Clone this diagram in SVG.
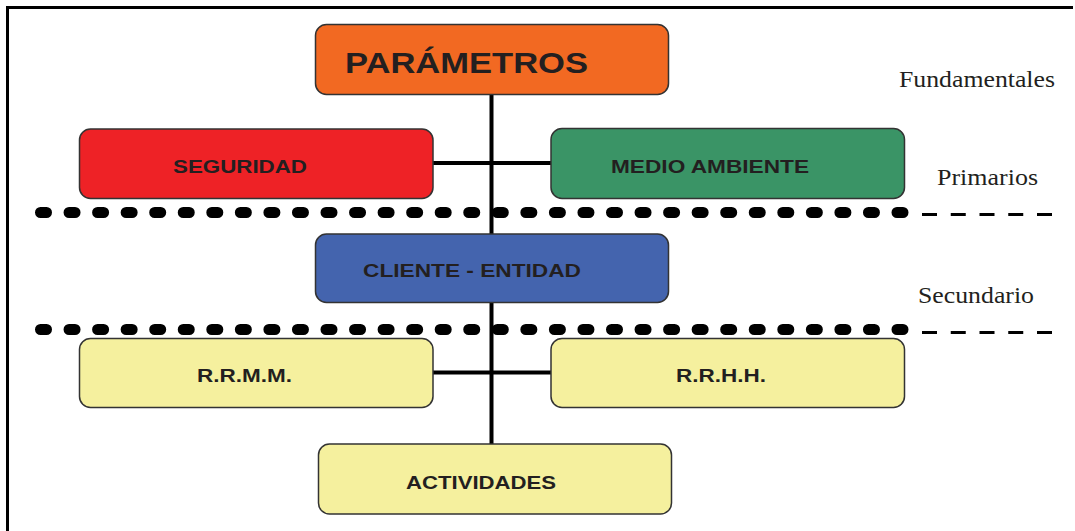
<svg xmlns="http://www.w3.org/2000/svg" width="1075" height="531" viewBox="0 0 1075 531">
<style>
.box{stroke:#333;stroke-width:1.5}
.lbl{font-family:"Liberation Sans",Arial,sans-serif;font-weight:bold;fill:#231F20;font-size:18px}
.side{font-family:"Liberation Serif","Times New Roman",serif;fill:#231F20;font-size:23px}
.con{stroke:#000;stroke-width:4;fill:none}
.dots{stroke:#000;stroke-width:11;stroke-linecap:round;stroke-dasharray:6 22.55;fill:none}
.dash{stroke:#000;stroke-width:3;stroke-dasharray:15 13.75;fill:none}
</style>
<rect width="1075" height="531" fill="#fff"/>
<g id="frame">
<line x1="6" y1="7.5" x2="1073" y2="7.5" stroke="#000" stroke-width="3"/>
<line x1="7.5" y1="6" x2="7.5" y2="531" stroke="#000" stroke-width="3"/>
</g>
<g id="separators">
<line class="dots" x1="40.5" y1="212.5" x2="903.5" y2="212.5"/>
<line class="dash" x1="922" y1="214.5" x2="1052" y2="214.5"/>
<line class="dots" x1="40.5" y1="329.5" x2="903.5" y2="329.5"/>
<line class="dash" x1="922" y1="332.5" x2="1052" y2="332.5"/>
</g>
<g id="connectors">
<line class="con" x1="491.5" y1="95" x2="491.5" y2="444"/>
<line class="con" x1="433" y1="163" x2="551" y2="163"/>
<line class="con" x1="433" y1="372.5" x2="551" y2="372.5"/>
</g>
<g id="parametros">
<rect class="box" x="315.5" y="24.5" width="353" height="70" rx="11" fill="#F26922"/>
<text class="lbl" x="345" y="73" font-size="30" style="font-size:30px" textLength="243" lengthAdjust="spacingAndGlyphs">PARÁMETROS</text>
</g>
<g id="seguridad">
<rect class="box" x="79.5" y="129" width="353.5" height="69.5" rx="11" fill="#EE2226"/>
<text class="lbl" x="173" y="173" textLength="134" lengthAdjust="spacingAndGlyphs">SEGURIDAD</text>
</g>
<g id="medio-ambiente">
<rect class="box" x="551" y="128.5" width="353.5" height="70" rx="11" fill="#3A9466"/>
<text class="lbl" x="611" y="173" textLength="198" lengthAdjust="spacingAndGlyphs">MEDIO AMBIENTE</text>
</g>
<g id="cliente-entidad">
<rect class="box" x="315.5" y="234" width="353" height="68.5" rx="11" fill="#4464AE"/>
<text class="lbl" x="363" y="277" textLength="218" lengthAdjust="spacingAndGlyphs">CLIENTE - ENTIDAD</text>
</g>
<g id="rrmm">
<rect class="box" x="79.5" y="338.5" width="353.5" height="69" rx="11" fill="#F5F09E"/>
<text class="lbl" x="197" y="382" textLength="95" lengthAdjust="spacingAndGlyphs">R.R.M.M.</text>
</g>
<g id="rrhh">
<rect class="box" x="551" y="338.5" width="353.5" height="69" rx="11" fill="#F5F09E"/>
<text class="lbl" x="676" y="382" textLength="90" lengthAdjust="spacingAndGlyphs">R.R.H.H.</text>
</g>
<g id="actividades">
<rect class="box" x="318.5" y="444" width="353" height="70" rx="11" fill="#F5F09E"/>
<text class="lbl" x="406" y="489" textLength="150" lengthAdjust="spacingAndGlyphs">ACTIVIDADES</text>
</g>
<g id="levels">
<text class="side" x="899" y="87" textLength="156" lengthAdjust="spacingAndGlyphs">Fundamentales</text>
<text class="side" x="937" y="185" textLength="101" lengthAdjust="spacingAndGlyphs">Primarios</text>
<text class="side" x="918" y="303" textLength="116" lengthAdjust="spacingAndGlyphs">Secundario</text>
</g>
</svg>
